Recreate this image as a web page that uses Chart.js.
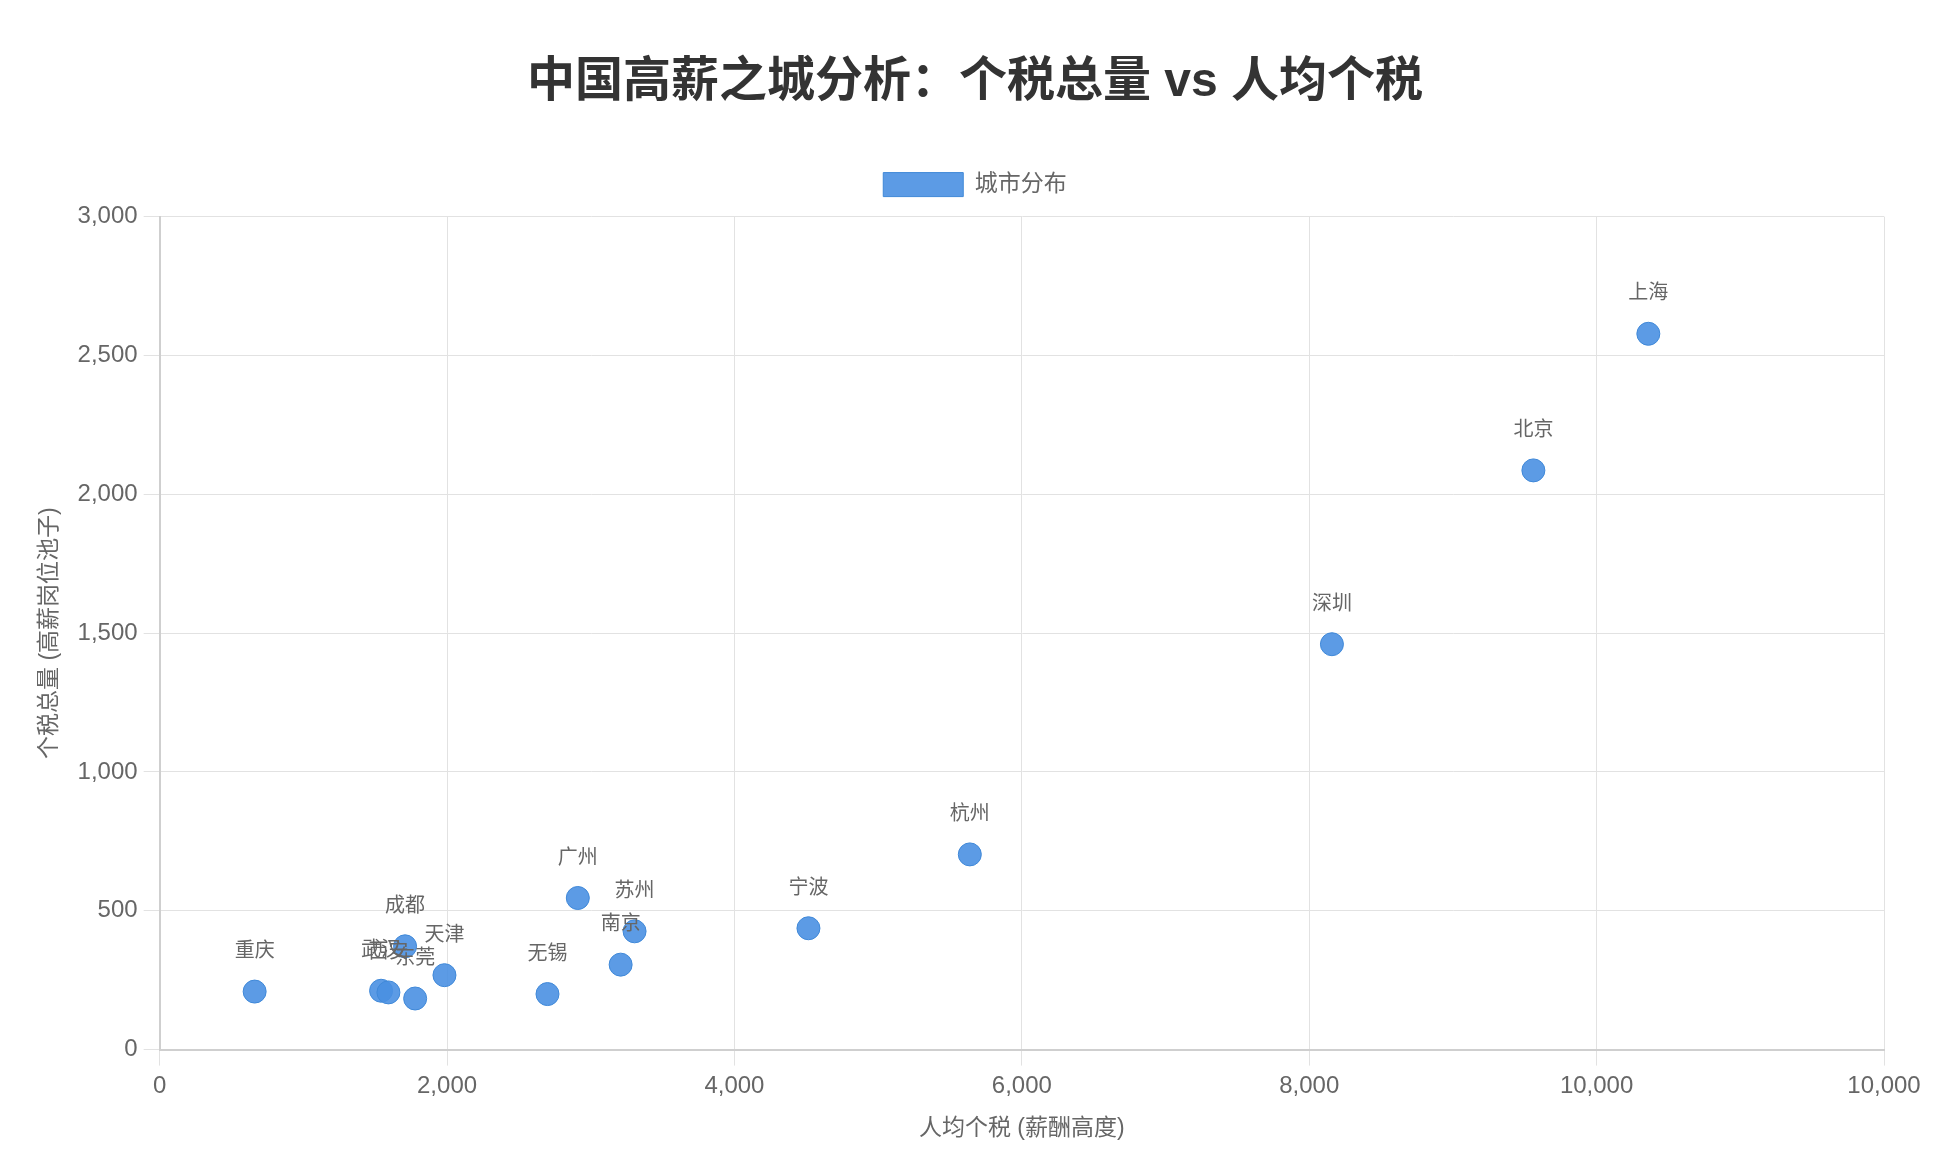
<!DOCTYPE html>
<html lang="zh">
<head>
    <meta charset="UTF-8">
    <title>中国高薪之城分析</title>
    <script src="https://cdn.jsdelivr.net/npm/chart.js"></script>
    <style>
        body {
            margin: 0;
            padding: 0;
            background: #ffffff;
        }
        canvas {
            display: block;
        }
    </style>
</head>
<body>
    <canvas id="cityChart" width="1950" height="1164"></canvas>

    <script>
        // 城市名称
        const cities = ["上海", "北京", "深圳", "杭州", "宁波", "广州", "苏州", "南京",
                        "无锡", "天津", "成都", "武汉", "西安", "东莞", "重庆"];
        // 人均个税 (x)
        const perCapitaTax = [10360, 9560, 8158, 5638, 4515, 2910, 3305, 3208,
                              2699, 1982, 1708, 1541, 1592, 1778, 661];
        // 个税总量 (y)
        const totalTax = [2578, 2086, 1460, 703, 437, 546, 426, 306,
                          200, 268, 372, 212, 206, 184, 209];
        // x 轴刻度文字
        const xTickLabels = ["0", "2,000", "4,000", "6,000", "8,000", "10,000", "10,000"];

        const fontFamily = "'Helvetica Neue', Helvetica, Arial, 'Liberation Sans', 'Noto Sans CJK SC', sans-serif";

        const points = perCapitaTax.map((x, i) => ({ x: x, y: totalTax[i], name: cities[i] }));

        // 在点上方写城市名
        const cityLabels = {
            id: "cityLabels",
            afterDatasetsDraw(chart) {
                const ctx = chart.ctx;
                const meta = chart.getDatasetMeta(0);
                ctx.save();
                ctx.font = "20px " + fontFamily;
                ctx.fillStyle = "#666";
                ctx.textAlign = "center";
                ctx.textBaseline = "middle";
                meta.data.forEach((pt, i) => {
                    ctx.fillText(cities[i], pt.x, pt.y - 40);
                });
                ctx.restore();
            }
        };

        // 图例下方多留一点空
        const legendSpacer = {
            id: "legendSpacer",
            beforeInit(chart) {
                const fit = chart.legend.fit;
                chart.legend.fit = function () {
                    fit.bind(chart.legend)();
                    this.height += 10;
                };
            }
        };

        new Chart(document.getElementById("cityChart"), {
            type: "scatter",
            data: {
                datasets: [{
                    label: "城市分布",
                    data: points,
                    backgroundColor: "rgba(74, 144, 226, 0.9)",
                    borderColor: "#3f88d8",
                    borderWidth: 1,
                    pointRadius: 11.5,
                    pointHoverRadius: 13
                }]
            },
            options: {
                responsive: false,
                devicePixelRatio: 1,
                animation: false,
                layout: {
                    padding: { top: 20, left: 28, right: 28, bottom: 14 }
                },
                plugins: {
                    title: {
                        display: true,
                        text: "中国高薪之城分析：个税总量 vs 人均个税",
                        color: "#333",
                        font: { size: 48, weight: "bold", family: fontFamily },
                        padding: { top: 33.5, bottom: 31 }
                    },
                    legend: {
                        labels: {
                            color: "#666",
                            boxWidth: 80,
                            boxHeight: 24,
                            padding: 30.5,
                            font: { size: 23, family: fontFamily }
                        }
                    },
                    tooltip: { enabled: false }
                },
                scales: {
                    x: {
                        type: "linear",
                        min: 0,
                        max: 12000,
                        title: {
                            display: true,
                            text: "人均个税 (薪酬高度)",
                            color: "#666",
                            font: { size: 23, family: fontFamily },
                            padding: 8
                        },
                        ticks: {
                            stepSize: 2000,
                            color: "#666",
                            padding: 6,
                            font: { size: 24, family: fontFamily },
                            callback: (v, i) => xTickLabels[i]
                        },
                        grid: { color: "#e2e2e2", tickLength: 16, lineWidth: 1 },
                        border: { color: "#cfcfcf", width: 2 }
                    },
                    y: {
                        min: 0,
                        max: 3000,
                        title: {
                            display: true,
                            text: "个税总量 (高薪岗位池子)",
                            color: "#666",
                            font: { size: 23, family: fontFamily },
                            padding: 8
                        },
                        ticks: {
                            stepSize: 500,
                            color: "#666",
                            padding: 6,
                            font: { size: 24, family: fontFamily }
                        },
                        grid: { color: "#e2e2e2", tickLength: 16, lineWidth: 1 },
                        border: { color: "#cfcfcf", width: 2 }
                    },
                    // 右侧留白用的空轴
                    yRight: {
                        position: "right",
                        min: 0,
                        max: 3000,
                        grid: { display: false },
                        border: { display: false },
                        ticks: { display: false },
                        afterFit(scale) { scale.width = 38; }
                    }
                }
            },
            plugins: [cityLabels, legendSpacer]
        });
    </script>
</body>
</html>
